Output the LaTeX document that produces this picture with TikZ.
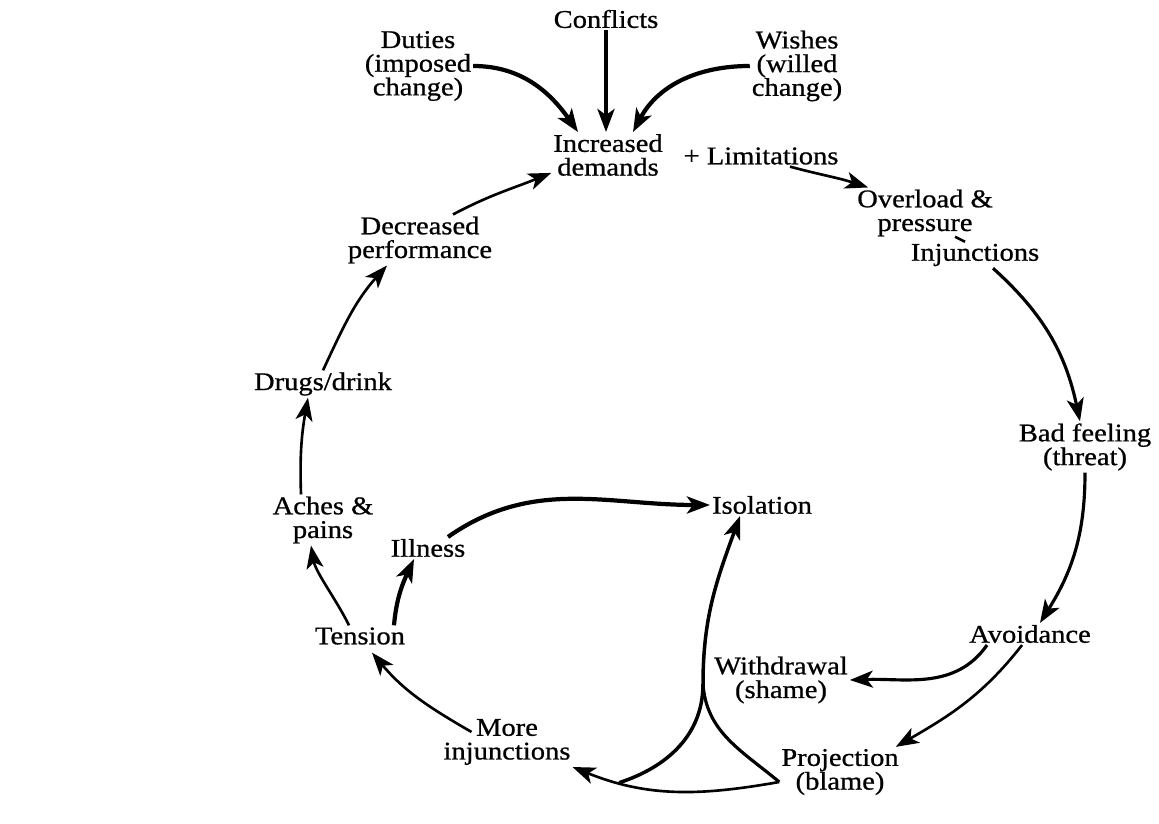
\documentclass[tikz,border=0pt]{standalone}
\usepackage{fontspec}
\setmainfont{Liberation Serif}[FakeStretch=1.12,FakeBold=0.8]
\usepackage{tikz}
\usetikzlibrary{arrows.meta}

\begin{document}
\begin{tikzpicture}[x=0.02cm,y=0.02cm,
	lbl/.style={align=center,inner sep=1pt,font=\fontsize{14.5}{13.5}\selectfont},
	flow/.style={-{Stealth[length=0.46cm,width=0.34cm,inset=0.12cm]},line width=1.5pt},
	heavy/.style={flow,line width=2.4pt}
	]
	
	\useasboundingbox (0,0) rectangle (1159,824);
	
	% top: what feeds the demands
	\node[lbl] (CF) at (606,805) {Conflicts};
	\node[lbl] (DU) at (418,758) {Duties\\(imposed\\change)};
	\node[lbl] (WI) at (797,758) {Wishes\\(willed\\change)};
	\node[lbl] (ID) at (608,669) {Increased\\demands};
	\node[lbl] (LM) at (761,668) {+ Limitations};
	
	% right side of the loop
	\node[lbl] (OP) at (925,611) {Overload \&\\pressure};
	\node[lbl] (IJ) at (975,569) {Injunctions};
	\node[lbl] (BF) at (1085,377) {Bad feeling\\(threat)};
	\node[lbl] (AV) at (1030,190) {Avoidance};
	\node[lbl] (WD) at (781,144) {Withdrawal\\(shame)};
	\node[lbl] (PR) at (840,52) {Projection\\(blame)};
	
	% left side of the loop
	\node[lbl] (IS) at (762,319) {Isolation};
	\node[lbl] (IL) at (428,276) {Illness};
	\node[lbl] (AP) at (323,304) {Aches \&\\pains};
	\node[lbl] (TE) at (360,188) {Tension};
	\node[lbl] (MI) at (507,82) {More\\injunctions};
	\node[lbl] (DD) at (323,440) {Drugs/drink};
	\node[lbl] (DP) at (420,584) {Decreased\\performance};
	
	\coordinate (K) at (703,140);
	
	\draw[heavy] (CF.south) -- (CF.south |- ID.north);
	\draw[heavy] (DU.east) to[out=0,in=125] ([xshift=-0.6cm]ID.north);
	\draw[heavy] (WI.west) to[out=180,in=62] ([xshift=0.5cm]ID.north);
	\draw[flow] ([xshift=0.58cm]LM.south) to[out=-15,in=162] ([xshift=0.26cm]OP.north west);
	\draw[line width=1.5pt] ([xshift=-0.2cm]IJ.north) -- ++(-10,5);
	\draw[flow,line width=1.8pt] ([xshift=0.36cm]IJ.south) to[out=-42,in=102] ([xshift=-0.1cm]BF.north);
	\draw[flow,line width=1.8pt] (BF.south) to[out=-90,in=58] ([xshift=0.2cm]AV.north);
	\draw[flow,line width=1.8pt] ([xshift=-0.86cm]AV.south) to[out=-125,in=2] (WD.east);
	\draw[flow] ([xshift=-0.16cm]AV.south) to[out=-128,in=30] ([xshift=-0.1cm]PR.north east);
	\draw[flow] ([yshift=-0.2cm]PR.west) to[out=190,in=-22] coordinate[pos=0.78] (j) (MI.south east);
	\draw[line width=1.8pt] ([yshift=-0.2cm]PR.west) to[out=140,in=-86] (K);
	\draw[heavy,line width=2pt] (j) to[out=18,in=-90] (K) to[out=90,in=-110] ([xshift=-0.44cm]IS.south);
	\draw[flow] ([xshift=0.6cm,yshift=-0.3cm]MI.north west) to[out=150,in=-50] ([xshift=0.24cm,yshift=-0.12cm]TE.south);
	\draw[heavy] ([xshift=0.68cm]TE.north) to[out=85,in=-115] ([xshift=-0.28cm]IL.south);
	\draw[heavy] ([xshift=0.4cm]IL.north) to[out=35,in=180] (IS.west);
	\draw[flow] ([xshift=-0.22cm]TE.north) to[out=116,in=-80,looseness=0.8] ([xshift=-0.24cm]AP.south);
	\draw[flow] ([xshift=-0.44cm]AP.north) to[out=92,in=-100] ([xshift=-0.3cm]DD.south);
	\draw[flow] (DD.north) to[out=65,in=-132] ([xshift=-0.66cm]DP.south);
	\draw[flow] ([xshift=0.66cm]DP.north) to[out=28,in=-158] ([yshift=0.1cm]ID.south west);
	
\end{tikzpicture}
\end{document}
